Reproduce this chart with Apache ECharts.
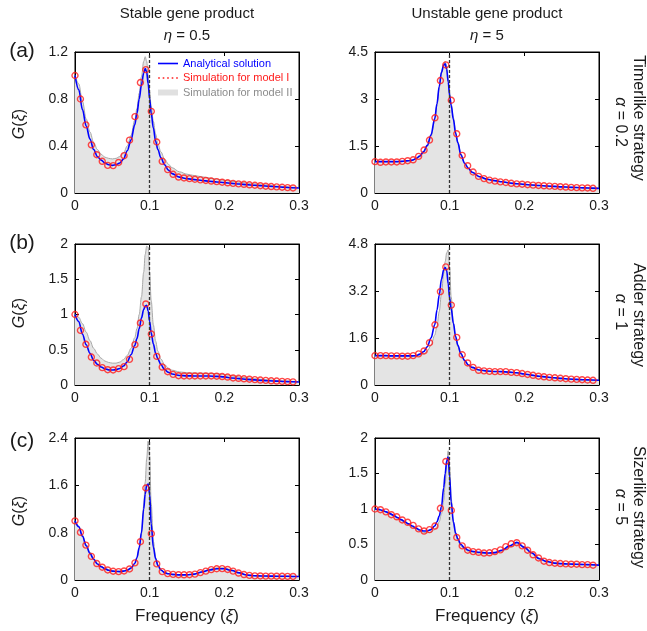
<!DOCTYPE html>
<html><head><meta charset="utf-8">
<script src="https://cdn.jsdelivr.net/npm/echarts@6/dist/echarts.min.js"></script>
<style>html,body{margin:0;padding:0;background:#fff}#c{width:647px;height:631px}</style>
</head><body><div id="c"></div>
<script>
// Fine frequency grid for the analytical curves and model II band
const FX = [0, 0.005, 0.01, 0.015, 0.02, 0.025, 0.03, 0.035, 0.04, 0.045, 0.05, 0.055, 0.06, 0.065, 0.07, 0.075, 0.08, 0.083, 0.086, 0.089, 0.092, 0.094, 0.096, 0.098, 0.1, 0.102, 0.105, 0.108, 0.111, 0.115, 0.12, 0.125, 0.13, 0.14, 0.15, 0.16, 0.17, 0.18, 0.19, 0.2, 0.21, 0.22, 0.23, 0.24, 0.25, 0.26, 0.27, 0.28, 0.29, 0.3];
// Frequencies of the model I simulation markers
const CX = [0, 0.0073, 0.0146, 0.0219, 0.0292, 0.0365, 0.0438, 0.0511, 0.0584, 0.0657, 0.073, 0.0803, 0.0876, 0.0949, 0.1022, 0.1095, 0.1168, 0.1241, 0.1314, 0.1387, 0.146, 0.1533, 0.1606, 0.1679, 0.1752, 0.1825, 0.1898, 0.1971, 0.2044, 0.2117, 0.219, 0.2263, 0.2336, 0.2409, 0.2482, 0.2555, 0.2628, 0.2701, 0.2774, 0.2847, 0.292];

// (a) stable, eta = 0.5
const A_STABLE_ANALYTIC = [1.0, 0.88, 0.71, 0.57, 0.46, 0.37, 0.31, 0.28, 0.255, 0.24, 0.235, 0.24, 0.255, 0.29, 0.36, 0.45, 0.58, 0.68, 0.80, 0.92, 1.02, 1.06, 1.03, 0.93, 0.80, 0.68, 0.55, 0.44, 0.37, 0.30, 0.24, 0.195, 0.165, 0.135, 0.122, 0.114, 0.107, 0.1, 0.094, 0.088, 0.082, 0.076, 0.071, 0.066, 0.062, 0.057, 0.053, 0.049, 0.045, 0.042];
const A_STABLE_MODEL2 = [1.0, 0.93, 0.78, 0.63, 0.52, 0.43, 0.37, 0.33, 0.305, 0.295, 0.29, 0.295, 0.31, 0.34, 0.40, 0.49, 0.62, 0.72, 0.85, 0.99, 1.12, 1.16, 1.12, 1.0, 0.86, 0.74, 0.61, 0.50, 0.42, 0.35, 0.29, 0.245, 0.215, 0.18, 0.16, 0.148, 0.138, 0.128, 0.118, 0.108, 0.1, 0.092, 0.085, 0.078, 0.072, 0.066, 0.06, 0.055, 0.05, 0.046];
const A_STABLE_MODEL1 = [1.0, 0.80, 0.58, 0.41, 0.326, 0.27, 0.235, 0.233, 0.26, 0.318, 0.45, 0.65, 0.94, 1.05, 0.695, 0.434, 0.27, 0.199, 0.159, 0.136, 0.128, 0.122, 0.117, 0.112, 0.107, 0.102, 0.097, 0.092, 0.087, 0.082, 0.078, 0.074, 0.070, 0.066, 0.062, 0.058, 0.055, 0.052, 0.049, 0.046, 0.043];
// (a) unstable, eta = 5
const A_UNSTABLE_ANALYTIC = [1.0, 1.0, 1.0, 1.0, 1.0, 1.0, 1.0, 1.01, 1.02, 1.03, 1.05, 1.1, 1.18, 1.32, 1.52, 1.85, 2.38, 2.85, 3.4, 3.85, 4.08, 4.12, 3.95, 3.55, 3.1, 2.8, 2.35, 1.9, 1.6, 1.22, 0.95, 0.79, 0.66, 0.52, 0.44, 0.395, 0.36, 0.32, 0.295, 0.275, 0.255, 0.24, 0.225, 0.21, 0.195, 0.185, 0.175, 0.165, 0.155, 0.148];
const A_UNSTABLE_MODEL2 = [1.0, 1.0, 1.0, 1.0, 1.0, 1.0, 1.0, 1.01, 1.02, 1.03, 1.05, 1.09, 1.16, 1.29, 1.48, 1.8, 2.3, 2.8, 3.35, 3.85, 4.12, 4.2, 4.05, 3.65, 3.2, 2.85, 2.4, 1.95, 1.63, 1.25, 0.97, 0.8, 0.67, 0.53, 0.45, 0.4, 0.365, 0.325, 0.3, 0.28, 0.26, 0.245, 0.23, 0.215, 0.2, 0.19, 0.18, 0.17, 0.16, 0.152];
const A_UNSTABLE_MODEL1 = [1.0, 0.98, 0.99, 0.99, 0.99, 1.01, 1.03, 1.06, 1.17, 1.37, 1.69, 2.40, 3.59, 4.09, 2.96, 1.89, 1.20, 0.87, 0.67, 0.53, 0.46, 0.41, 0.38, 0.355, 0.335, 0.31, 0.29, 0.28, 0.265, 0.25, 0.24, 0.23, 0.22, 0.21, 0.2, 0.19, 0.18, 0.17, 0.165, 0.16, 0.15];
// (b) stable
const B_STABLE_ANALYTIC = [1.0, 0.90, 0.72, 0.57, 0.45, 0.35, 0.295, 0.255, 0.23, 0.215, 0.212, 0.218, 0.235, 0.27, 0.33, 0.43, 0.56, 0.66, 0.8, 0.95, 1.07, 1.12, 1.13, 1.05, 0.9, 0.74, 0.58, 0.45, 0.37, 0.29, 0.22, 0.18, 0.155, 0.135, 0.13, 0.128, 0.128, 0.127, 0.122, 0.115, 0.1, 0.09, 0.08, 0.072, 0.065, 0.06, 0.055, 0.05, 0.046, 0.043];
const B_STABLE_MODEL2 = [1.0, 0.96, 0.87, 0.75, 0.63, 0.52, 0.44, 0.38, 0.34, 0.32, 0.31, 0.31, 0.325, 0.36, 0.42, 0.52, 0.67, 0.8, 1.0, 1.25, 1.6, 1.85, 1.97, 1.95, 1.6, 1.2, 0.85, 0.62, 0.48, 0.37, 0.29, 0.24, 0.21, 0.185, 0.175, 0.17, 0.168, 0.165, 0.16, 0.15, 0.13, 0.115, 0.1, 0.09, 0.08, 0.072, 0.065, 0.058, 0.052, 0.048];
const B_STABLE_MODEL1 = [1.0, 0.775, 0.577, 0.397, 0.312, 0.246, 0.217, 0.213, 0.232, 0.26, 0.364, 0.572, 0.88, 1.15, 0.723, 0.406, 0.255, 0.189, 0.151, 0.132, 0.128, 0.128, 0.128, 0.128, 0.128, 0.128, 0.125, 0.12, 0.113, 0.1, 0.095, 0.088, 0.082, 0.076, 0.07, 0.065, 0.06, 0.056, 0.052, 0.048, 0.045];
// (b) unstable
const B_UNSTABLE_ANALYTIC = [1.0, 1.0, 1.0, 1.0, 0.99, 0.99, 0.99, 0.99, 0.99, 0.99, 0.99, 1.0, 1.05, 1.13, 1.3, 1.6, 2.05, 2.55, 3.05, 3.6, 3.92, 4.0, 3.9, 3.45, 2.95, 2.6, 2.1, 1.65, 1.35, 1.07, 0.84, 0.68, 0.6, 0.51, 0.475, 0.46, 0.455, 0.44, 0.415, 0.375, 0.335, 0.3, 0.27, 0.245, 0.225, 0.205, 0.19, 0.178, 0.168, 0.16];
const B_UNSTABLE_MODEL2 = [1.0, 1.0, 1.0, 1.0, 0.99, 0.99, 0.99, 0.99, 0.99, 0.99, 0.99, 0.99, 1.02, 1.06, 1.15, 1.35, 1.7, 2.0, 2.5, 3.1, 3.8, 4.2, 4.5, 4.6, 4.0, 3.0, 2.1, 1.6, 1.3, 1.05, 0.83, 0.68, 0.6, 0.51, 0.475, 0.46, 0.455, 0.44, 0.415, 0.375, 0.335, 0.3, 0.27, 0.245, 0.225, 0.205, 0.19, 0.178, 0.168, 0.16];
const B_UNSTABLE_MODEL1 = [1.0, 1.0, 1.0, 0.99, 0.99, 0.98, 0.98, 1.0, 1.06, 1.16, 1.44, 2.05, 3.18, 4.02, 2.72, 1.62, 1.03, 0.75, 0.60, 0.50, 0.48, 0.465, 0.455, 0.455, 0.455, 0.43, 0.42, 0.39, 0.36, 0.33, 0.3, 0.28, 0.26, 0.245, 0.23, 0.215, 0.2, 0.19, 0.18, 0.17, 0.16];
// (c) stable
const C_STABLE_ANALYTIC = [1.0, 0.9, 0.74, 0.58, 0.45, 0.35, 0.27, 0.225, 0.19, 0.165, 0.15, 0.143, 0.142, 0.15, 0.165, 0.2, 0.28, 0.38, 0.55, 0.8, 1.2, 1.45, 1.6, 1.62, 1.45, 0.95, 0.55, 0.36, 0.25, 0.17, 0.125, 0.105, 0.095, 0.087, 0.086, 0.1, 0.135, 0.17, 0.19, 0.19, 0.16, 0.12, 0.085, 0.072, 0.068, 0.066, 0.064, 0.063, 0.062, 0.06];
const C_STABLE_MODEL2 = [1.0, 0.91, 0.76, 0.6, 0.47, 0.365, 0.285, 0.235, 0.2, 0.175, 0.16, 0.152, 0.15, 0.157, 0.172, 0.205, 0.28, 0.37, 0.52, 0.78, 1.25, 1.65, 2.05, 2.35, 2.1, 1.3, 0.65, 0.38, 0.26, 0.175, 0.13, 0.108, 0.097, 0.09, 0.09, 0.105, 0.14, 0.18, 0.205, 0.205, 0.17, 0.125, 0.088, 0.074, 0.069, 0.067, 0.065, 0.064, 0.063, 0.061];
const C_STABLE_MODEL1 = [1.0, 0.806, 0.59, 0.40, 0.278, 0.216, 0.17, 0.148, 0.142, 0.153, 0.187, 0.29, 0.647, 1.555, 0.783, 0.272, 0.142, 0.108, 0.095, 0.09, 0.088, 0.09, 0.1, 0.125, 0.15, 0.175, 0.19, 0.192, 0.178, 0.15, 0.118, 0.092, 0.078, 0.07, 0.068, 0.066, 0.065, 0.064, 0.063, 0.062, 0.06];
// (c) unstable
const C_UNSTABLE_ANALYTIC = [1.0, 0.995, 0.98, 0.96, 0.935, 0.91, 0.88, 0.85, 0.82, 0.79, 0.76, 0.73, 0.705, 0.69, 0.69, 0.71, 0.76, 0.82, 0.9, 1.03, 1.3, 1.5, 1.68, 1.73, 1.45, 1.1, 0.82, 0.66, 0.58, 0.5, 0.45, 0.42, 0.405, 0.39, 0.38, 0.385, 0.42, 0.48, 0.53, 0.46, 0.38, 0.3, 0.26, 0.238, 0.23, 0.225, 0.222, 0.218, 0.214, 0.21];
const C_UNSTABLE_MODEL2 = [0.99, 0.985, 0.97, 0.95, 0.925, 0.9, 0.87, 0.84, 0.81, 0.78, 0.75, 0.72, 0.69, 0.67, 0.665, 0.675, 0.71, 0.75, 0.82, 0.93, 1.12, 1.35, 1.62, 1.82, 1.6, 1.15, 0.8, 0.63, 0.55, 0.48, 0.43, 0.405, 0.39, 0.375, 0.37, 0.375, 0.405, 0.46, 0.51, 0.47, 0.39, 0.31, 0.265, 0.24, 0.23, 0.225, 0.22, 0.216, 0.212, 0.208];
const C_UNSTABLE_MODEL1 = [1.0, 0.99, 0.96, 0.92, 0.89, 0.846, 0.813, 0.77, 0.72, 0.69, 0.71, 0.76, 1.01, 1.67, 0.98, 0.60, 0.48, 0.42, 0.40, 0.39, 0.38, 0.383, 0.40, 0.425, 0.47, 0.51, 0.525, 0.48, 0.42, 0.355, 0.31, 0.265, 0.246, 0.236, 0.232, 0.227, 0.222, 0.222, 0.217, 0.217, 0.208];

// Axis tick settings per panel (row-major: a-left, a-right, b-left, ...)
const Y_MAX = [1.2, 4.5, 2, 4.8, 2.4, 2];
const Y_STEP = [0.4, 1.5, 0.5, 1.6, 0.8, 0.5];
const X_MIN = 0, X_MAX = 0.3, X_STEP = 0.1;
const DASH_X = 0.1;

// Text
const SERIES_NAMES = ['Analytical solution', 'Simulation for model I', 'Simulation for model II'];
const COL_TITLES = ['Stable gene product', 'Unstable gene product'];
const ETA = ['0.5', '5'];
const PANEL_TAGS = ['(a)', '(b)', '(c)'];
const STRATEGIES = ['Timerlike strategy', 'Adder strategy', 'Sizerlike strategy'];
const ALPHAS = ['0.2', '1', '5'];

const PANELS = [
  [A_STABLE_ANALYTIC, A_STABLE_MODEL1, A_STABLE_MODEL2],
  [A_UNSTABLE_ANALYTIC, A_UNSTABLE_MODEL1, A_UNSTABLE_MODEL2],
  [B_STABLE_ANALYTIC, B_STABLE_MODEL1, B_STABLE_MODEL2],
  [B_UNSTABLE_ANALYTIC, B_UNSTABLE_MODEL1, B_UNSTABLE_MODEL2],
  [C_STABLE_ANALYTIC, C_STABLE_MODEL1, C_STABLE_MODEL2],
  [C_UNSTABLE_ANALYTIC, C_UNSTABLE_MODEL1, C_UNSTABLE_MODEL2]
];

const FONT = '"Liberation Sans", Arial, Helvetica, sans-serif';
const COL_LEFT = [75, 375];
const COL_CENTER = [187, 487];
const ROW_TOP = [52, 244, 438];
const ROW_H = [141, 141, 142];
const PLOT_W = 224;

const fmt = v => String(+(+v).toFixed(2));

const grids = [], xAxes = [], yAxes = [], series = [];
PANELS.forEach((p, i) => {
  const row = Math.floor(i / 2), col = i % 2;
  grids.push({
    left: COL_LEFT[col], top: ROW_TOP[row], width: PLOT_W, height: ROW_H[row],
    show: true, borderColor: '#000', borderWidth: 1, backgroundColor: 'transparent',
    containLabel: false, outerBoundsMode: 'none'
  });
  const tick = {show: true, inside: true, length: 4, lineStyle: {color: '#000', width: 1}};
  const line = {show: true, onZero: false, lineStyle: {color: '#000', width: 1}};
  xAxes.push({
    gridIndex: i, type: 'value', position: 'bottom', min: X_MIN, max: X_MAX, interval: X_STEP,
    axisLine: line, axisTick: tick, splitLine: {show: false},
    axisLabel: {color: '#1a1a1a', fontSize: 14, fontFamily: FONT, margin: 6, formatter: fmt}
  });
  xAxes.push({
    gridIndex: i, type: 'value', position: 'top', min: X_MIN, max: X_MAX, interval: X_STEP,
    axisLine: line, axisTick: tick, splitLine: {show: false}, axisLabel: {show: false}
  });
  yAxes.push({
    gridIndex: i, type: 'value', position: 'left', min: 0, max: Y_MAX[i], interval: Y_STEP[i],
    axisLine: line, axisTick: tick, splitLine: {show: false},
    axisLabel: {color: '#1a1a1a', fontSize: 14, fontFamily: FONT, margin: 7, formatter: fmt}
  });
  yAxes.push({
    gridIndex: i, type: 'value', position: 'right', min: 0, max: Y_MAX[i], interval: Y_STEP[i],
    axisLine: line, axisTick: tick, splitLine: {show: false}, axisLabel: {show: false}
  });
  const xi = 2 * i, yi = 2 * i;
  series.push({
    type: 'line', name: SERIES_NAMES[2], xAxisIndex: xi, yAxisIndex: yi,
    data: FX.map((x, j) => [x, p[2][j]]), smooth: 0.35, smoothMonotone: 'x',
    symbol: 'none', lineStyle: {color: '#a8a8a8', width: 1},
    areaStyle: {color: '#e4e4e4', opacity: 1}, itemStyle: {color: '#e0e0e0'}, z: 1
  });
  series.push({
    type: 'line', name: SERIES_NAMES[0], xAxisIndex: xi, yAxisIndex: yi,
    data: FX.map((x, j) => [x, p[0][j]]), smooth: 0.35, smoothMonotone: 'x',
    symbol: 'none', lineStyle: {color: '#0000ff', width: 1.6}, itemStyle: {color: '#0000ff'}, z: 3,
    markLine: {
      silent: true, symbol: ['none', 'none'], label: {show: false}, animation: false,
      lineStyle: {type: [3, 2], color: '#333', width: 1.3},
      data: [{xAxis: DASH_X}]
    }
  });
  series.push({
    type: 'scatter', name: SERIES_NAMES[1], xAxisIndex: xi, yAxisIndex: yi,
    data: CX.map((x, j) => [x, p[1][j]]), symbol: 'circle', symbolSize: 6,
    itemStyle: {color: 'rgba(255,255,255,0)', borderColor: '#ff1a1a', borderWidth: 1.4}, z: 4
  });
});

const txt = (x, y, text, size, extra) => Object.assign({
  type: 'text', x: x, y: y, silent: true,
  style: Object.assign({text: text, fontSize: size, fontFamily: FONT, fill: '#1a1a1a',
    align: 'center', verticalAlign: 'middle'}, (extra && extra.style) || {})
}, extra && extra.rotation !== undefined ? {rotation: extra.rotation} : {});

const graphics = [];
COL_TITLES.forEach((t, c) => {
  graphics.push(txt(COL_CENTER[c], 14, t, 15));
  graphics.push(txt(COL_CENTER[c], 36, '{i|η} = ' + ETA[c], 15, {style: {rich: {i: {fontStyle: 'italic', fontSize: 15, fontFamily: FONT}}}}));
  graphics.push(txt(COL_CENTER[c], 616, 'Frequency (' + '{i|ξ})', 17, {style: {rich: {i: {fontStyle: 'italic', fontSize: 17, fontFamily: FONT}}}}));
});
const TAG_Y = [51, 243, 441];
const G_Y = [124, 313, 511];
const STRAT_Y = [118, 315, 507];
const ALPHA_Y = [122, 312, 507];
PANEL_TAGS.forEach((t, r) => {
  graphics.push(txt(22, TAG_Y[r], t, 21));
  graphics.push(txt(20, G_Y[r], '{i|G}(' + '{i|ξ})', 16, {rotation: Math.PI / 2, style: {rich: {i: {fontStyle: 'italic', fontSize: 16, fontFamily: FONT}}}}));
  graphics.push(txt(638, STRAT_Y[r], STRATEGIES[r], 16, {rotation: -Math.PI / 2}));
  graphics.push(txt(620, ALPHA_Y[r], '{i|α} = ' + ALPHAS[r], 16, {rotation: -Math.PI / 2, style: {rich: {i: {fontStyle: 'italic', fontSize: 16, fontFamily: FONT}}}}));
});

const chart = echarts.init(document.getElementById('c'), null, {renderer: 'canvas'});
chart.setOption({
  animation: false,
  backgroundColor: '#fff',
  grid: grids, xAxis: xAxes, yAxis: yAxes, series: series,
  legend: {
    left: 158, top: 58, orient: 'vertical', itemWidth: 20, itemHeight: 8, itemGap: 3.5, padding: 0,
    textStyle: {fontSize: 11, fontFamily: FONT},
    data: [
      {name: SERIES_NAMES[0], icon: 'path://M0,0M20,8M0,3.2h20v1.6h-20z',
       itemStyle: {color: '#0000ff', borderWidth: 0}, textStyle: {color: '#0000ff'}},
      {name: SERIES_NAMES[1], icon: 'path://M0,0M20,8M0,4a1,1 0 1,0 2,0a1,1 0 1,0 -2,0zM4.5,4a1,1 0 1,0 2,0a1,1 0 1,0 -2,0zM9,4a1,1 0 1,0 2,0a1,1 0 1,0 -2,0zM13.5,4a1,1 0 1,0 2,0a1,1 0 1,0 -2,0zM18,4a1,1 0 1,0 2,0a1,1 0 1,0 -2,0z',
       itemStyle: {color: '#ff1a1a', borderWidth: 0}, textStyle: {color: '#ff1a1a'}},
      {name: SERIES_NAMES[2], icon: 'path://M0,0M20,8M0,1h20v6h-20z',
       itemStyle: {color: '#e0e0e0', borderWidth: 0}, textStyle: {color: '#8c8c8c'}}
    ]
  },
  graphic: graphics
});
</script></body></html>
